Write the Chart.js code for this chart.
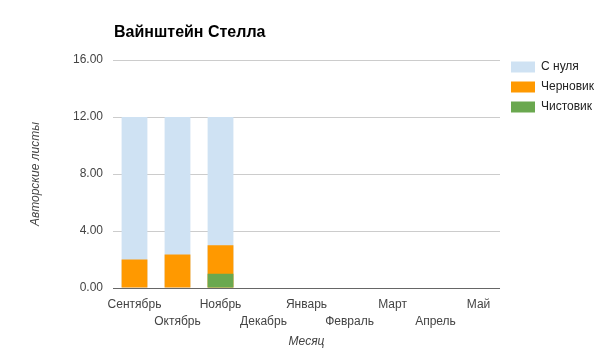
<!DOCTYPE html>
<html>
<head>
<meta charset="utf-8">
<script src="https://cdn.jsdelivr.net/npm/chart.js@4"></script>
<style>
  body { margin: 0; background: #fff; }
  #wrap { width: 605px; height: 351px; }
</style>
</head>
<body>
<div id="wrap"><canvas id="chart"></canvas></div>
<script>
// data
let months = ["Сентябрь", "Октябрь", "Ноябрь", "Декабрь", "Январь", "Февраль", "Март", "Апрель", "Май"];
let fromScratch = [12, 12, 12, 0, 0, 0, 0, 0, 0];   // С нуля
let draft = [2, 2.35, 3, 0, 0, 0, 0, 0, 0];         // Черновик
let clean = [0, 0, 1, 0, 0, 0, 0, 0, 0];            // Чистовик
let yTicks = [0, 4, 8, 12, 16];

// staggered labels: odd months go to the second row
let xLabels = months.map(function (m, i) { return i % 2 == 0 ? [m, ""] : ["", m]; });

let fontName = "'Liberation Sans', Arial, sans-serif";

let titlePlugin = {
    id: "plainTitle",
    afterDraw: function (chart) {
        let c = chart.ctx;
        c.save();
        c.font = "bold 16px " + fontName;
        c.fillStyle = "#000";
        c.textBaseline = "middle";
        c.fillText("Вайнштейн Стелла", chart.chartArea.left + 1, 33);
        c.restore();
    }
};

let legendNudge = {
    id: "legendNudge",
    afterLayout: function (chart) {
        chart.legend.top = 53;
        chart.legend.left = 503;
    }
};

let ctx = document.getElementById("chart").getContext("2d");
let display = new Chart(ctx, {
    type: "bar",
    data: {
        labels: xLabels,
        datasets: [
            { label: "Чистовик", data: clean, backgroundColor: "#6aa84f" },
            { label: "Черновик", data: draft, backgroundColor: "#ff9900" },
            { label: "С нуля", data: fromScratch, backgroundColor: "#cfe2f3" }
        ]
    },
    options: {
        responsive: true,
        maintainAspectRatio: false,
        animation: false,
        layout: { padding: { top: 60, right: 4, bottom: 0, left: 0 } },
        datasets: { bar: { categoryPercentage: 1, barPercentage: 0.6 } },
        plugins: {
            tooltip: { enabled: false },
            legend: {
                position: "right",
                align: "start",
                reverse: true,
                labels: {
                    boxWidth: 24,
                    boxHeight: 11,
                    padding: 8,
                    color: "#222",
                    font: { family: fontName, size: 12 }
                }
            }
        },
        scales: {
            x: {
                stacked: true,
                grid: { display: false, drawTicks: false },
                border: { display: false },
                ticks: {
                    autoSkip: false,
                    maxRotation: 0,
                    padding: 8,
                    color: "#444",
                    font: { family: fontName, size: 12, lineHeight: "17px" }
                },
                title: {
                    display: true,
                    text: "Месяц",
                    color: "#444",
                    padding: { top: 0, bottom: 2 },
                    font: { family: fontName, size: 12, style: "italic" }
                },
                afterFit: function (scale) { scale.height = 63; }
            },
            y: {
                stacked: false,
                min: 0,
                max: 16,
                afterBuildTicks: function (scale) {
                    scale.ticks = yTicks.map(function (v) { return { value: v }; });
                },
                grid: {
                    drawTicks: false,
                    color: function (c) { return c.tick && c.tick.value == 0 ? "#666" : "#ccc"; }
                },
                border: { display: false },
                ticks: {
                    padding: 10,
                    color: "#444",
                    font: { family: fontName, size: 12 },
                    callback: function (v) { return Number(v).toFixed(2); }
                },
                title: {
                    display: true,
                    text: "Авторские листы",
                    color: "#444",
                    padding: { top: 28, bottom: 0 },
                    font: { family: fontName, size: 12, style: "italic" }
                },
                afterFit: function (scale) { scale.width = 113; }
            }
        }
    },
    plugins: [titlePlugin, legendNudge]
});
</script>
</body>
</html>
